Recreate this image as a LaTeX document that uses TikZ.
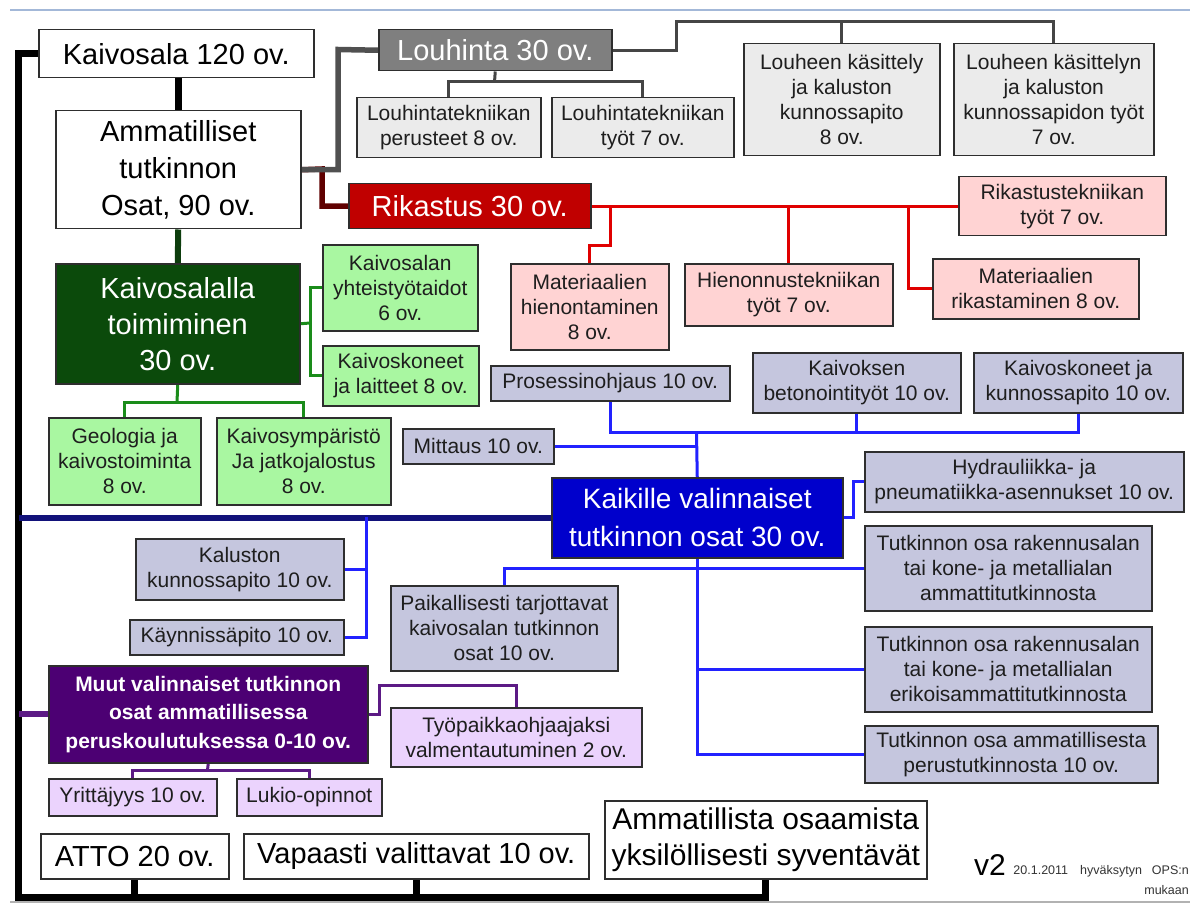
\documentclass[tikz,border=0pt]{standalone}
\usepackage{fontspec}
\setmainfont{Liberation Sans}
\usetikzlibrary{calc}
\pgfdeclarelayer{bg}
\pgfsetlayers{bg,main}
\definecolor{bordc}{HTML}{2E2E2E}
\definecolor{lgray}{HTML}{EBEBEB}
\definecolor{pinkb}{HTML}{FFD3D3}
\definecolor{lgreen}{HTML}{A9F7A1}
\definecolor{lavb}{HTML}{C5C6DE}
\definecolor{lpurp}{HTML}{EBD3FD}
\definecolor{louhc}{HTML}{7F7F7F}
\definecolor{rikc}{HTML}{C00000}
\definecolor{dgreen}{HTML}{0B4A0B}
\definecolor{kaic}{HTML}{0000CC}
\definecolor{muuc}{HTML}{4C0073}
\definecolor{gthickc}{HTML}{505050}
\definecolor{gthinc}{HTML}{454545}
\definecolor{dredc}{HTML}{600000}
\definecolor{redc}{HTML}{E00000}
\definecolor{dgrc}{HTML}{0D3D0D}
\definecolor{grnc}{HTML}{1A8C1A}
\definecolor{bluc}{HTML}{2222FF}
\definecolor{navyc}{HTML}{12127A}
\definecolor{purc}{HTML}{5C1A85}
\definecolor{topline}{HTML}{A3B8D8}
\definecolor{txtc}{HTML}{1E1E1E}
\tikzset{
  box/.style={draw=bordc, line width=1.5pt, anchor=north west, inner sep=0pt, align=center},
  small/.style={box, text=txtc, font=\fontsize{21}{25}\selectfont},
  big/.style={box, font=\fontsize{29}{37}\selectfont},
  blk/.style={line width=7pt, black},
  gthick/.style={line width=5.5pt, gthickc},
  gthin/.style={line width=3pt, gthinc},
  dred/.style={line width=5.5pt, dredc},
  rline/.style={line width=3pt, redc},
  dgr/.style={line width=6pt, dgrc},
  gline/.style={line width=3pt, grnc},
  bline/.style={line width=3pt, bluc},
  nline/.style={line width=6.5pt, navyc},
  pthick/.style={line width=6pt, purc},
  pline/.style={line width=3pt, purc},
}
\begin{document}
\begin{tikzpicture}[x=1pt,y=-1pt]
\useasboundingbox (0,0) rectangle (1202,904);

% main boxes
\node[big, fill=white, minimum width=275pt, minimum height=48pt] (kv) at (38,29) {Kaivosala 120 ov.};
\node[big, fill=white, minimum width=245pt, minimum height=118pt] (am) at (55,110) {Ammatilliset\\tutkinnon\\Osat, 90 ov.};
\node[big, fill=louhc, text=white, minimum width=233pt, minimum height=41pt] (lo) at (378,29) {Louhinta 30 ov.};
\node[small, fill=lgray, minimum width=184pt, minimum height=60pt] (lp) at (356,97) {Louhintatekniikan\\perusteet 8 ov.};
\node[small, fill=lgray, minimum width=182pt, minimum height=60pt] (lt) at (551,97) {Louhintatekniikan\\työt 7 ov.};
\node[small, fill=lgray, minimum width=196pt, minimum height=112pt] (lk1) at (743,43) {Louheen käsittely\\ja kaluston\\kunnossapito\\8 ov.};
\node[small, fill=lgray, minimum width=200pt, minimum height=112pt] (lk2) at (953,43) {Louheen käsittelyn\\ja kaluston\\kunnossapidon työt\\7 ov.};
\node[big, fill=rikc, text=white, minimum width=242pt, minimum height=45pt] (ri) at (348,183) {Rikastus 30 ov.};
\node[small, fill=pinkb, minimum width=207pt, minimum height=59pt] (rt) at (958,176) {Rikastustekniikan\\työt 7 ov.};
\node[small, fill=pinkb, minimum width=158pt, minimum height=86pt] (mh) at (510,263) {Materiaalien\\hienontaminen\\8 ov.};
\node[small, fill=pinkb, minimum width=208pt, minimum height=62pt] (ht) at (684,263) {Hienonnustekniikan\\työt 7 ov.};
\node[small, fill=pinkb, minimum width=206pt, minimum height=60pt] (mr) at (932,258) {Materiaalien\\rikastaminen 8 ov.};
\node[big, fill=dgreen, text=white, font=\fontsize{29}{36}\selectfont, minimum width=244pt, minimum height=120pt] (kt) at (55,263) {Kaivosalalla\\toimiminen\\30 ov.};
\node[small, fill=lgreen, minimum width=155pt, minimum height=86pt] (ky) at (322,244) {Kaivosalan\\yhteistyötaidot\\6 ov.};
\node[small, fill=lgreen, minimum width=156pt, minimum height=60pt] (kk) at (322,345) {Kaivoskoneet\\ja laitteet 8 ov.};
\node[small, fill=lgreen, minimum width=152pt, minimum height=87pt] (geo) at (48,417) {Geologia ja\\kaivostoiminta\\8 ov.};
\node[small, fill=lgreen, minimum width=174pt, minimum height=87pt] (ks) at (216,417) {Kaivosympäristö\\Ja jatkojalostus\\8 ov.};
\node[small, fill=lavb, minimum width=239pt, minimum height=35pt] (po) at (490,365) {Prosessinohjaus 10 ov.};
\node[small, fill=lavb, minimum width=208pt, minimum height=60pt] (kb) at (752,352) {Kaivoksen\\betonointityöt 10 ov.};
\node[small, fill=lavb, minimum width=209pt, minimum height=60pt] (kk2) at (973,352) {Kaivoskoneet ja\\kunnossapito 10 ov.};
\node[small, fill=lavb, minimum width=151pt, minimum height=35pt] (mi) at (402,428) {Mittaus 10 ov.};
\node[box, fill=kaic, text=white, font=\fontsize{28}{38}\selectfont, minimum width=291pt, minimum height=80pt] (kai) at (551,477) {Kaikille valinnaiset\\tutkinnon osat 30 ov.};
\node[small, fill=lavb, minimum width=319pt, minimum height=60pt] (hy) at (864,451) {Hydrauliikka- ja\\pneumatiikka-asennukset 10 ov.};
\node[small, fill=lavb, minimum width=287pt, minimum height=85pt] (tr1) at (864,525) {Tutkinnon osa rakennusalan\\tai kone- ja metallialan\\ammattitutkinnosta};
\node[small, fill=lavb, minimum width=287pt, minimum height=85pt] (tr2) at (864,626) {Tutkinnon osa rakennusalan\\tai kone- ja metallialan\\erikoisammattitutkinnosta};
\node[small, fill=lavb, minimum width=293pt, minimum height=57pt] (ta) at (864,725) {Tutkinnon osa ammatillisesta\\perustutkinnosta 10 ov.};
\node[small, fill=lavb, minimum width=208pt, minimum height=61pt] (kal) at (135,538) {Kaluston\\kunnossapito 10 ov.};
\node[small, fill=lavb, minimum width=214pt, minimum height=35pt] (kay) at (129,619) {Käynnissäpito 10 ov.};
\node[small, fill=lavb, minimum width=227pt, minimum height=85pt] (pk) at (390,585) {Paikallisesti tarjottavat\\kaivosalan tutkinnon\\osat 10 ov.};
\node[box, fill=muuc, text=white, font=\bfseries\fontsize{21}{28.5}\selectfont, minimum width=319pt, minimum height=97pt] (mu) at (48,665) {Muut valinnaiset tutkinnon\\osat ammatillisessa\\peruskoulutuksessa 0-10 ov.};
\node[small, fill=lpurp, minimum width=251pt, minimum height=59pt] (tp) at (390,707) {Työpaikkaohjaajaksi\\valmentautuminen 2 ov.};
\node[small, fill=lpurp, minimum width=168pt, minimum height=37pt] (yr) at (48,778) {Yrittäjyys 10 ov.};
\node[small, fill=lpurp, minimum width=145pt, minimum height=37pt] (lu) at (236,778) {Lukio-opinnot};
\node[big, fill=white, minimum width=188pt, minimum height=45pt] (atto) at (40,833) {ATTO 20 ov.};
\node[big, fill=white, minimum width=345pt, minimum height=45pt] (vap) at (243,833) {Vapaasti valittavat 10 ov.};
\node[big, fill=white, font=\fontsize{30}{36}\selectfont, minimum width=322pt, minimum height=78pt] (ao) at (604,800) {Ammatillista osaamista\\yksilöllisesti syventävät};

\node[anchor=base west, inner sep=0pt, font=\fontsize{30}{30}\selectfont] (v2) at (974,875) {v2};
\node[anchor=base east, inner sep=0pt, text=black!80, font=\fontsize{12.5}{12.5}\selectfont] (dt) at (1189,874) {20.1.2011\hspace{12pt}hyväksytyn\hspace{10pt}OPS:n};
\node[anchor=base east, inner sep=0pt, text=black!80, font=\fontsize{12.5}{12.5}\selectfont] (mk) at (1189,894) {mukaan};

\coordinate (BL) at (18.5,897.5);
\coordinate (g1) at (338,49.5);
\coordinate (d1) at (322,169);
\coordinate (lb) at (494.5,82);
\coordinate (lr) at (676,22);
\coordinate (r1) at (610,205.5);
\coordinate (r2) at (908,205.5);
\coordinate (gr) at (310,323);
\coordinate (gb) at (177,402);
\coordinate (bh) at (696.5,432);
\coordinate (bv) at (366,517);
\coordinate (pc) at (379,685);
\coordinate (pb) at (207.5,770);

\begin{pgfonlayer}{bg}
\fill[white] (0,0) rectangle (1202,904);
\draw[topline, line width=1.5pt] (10,10) -- (1190,10);
\draw[gray!60, line width=1.5pt] (10,902) -- (1190,902);
\draw[blk] (kv.west) -| (BL) -| (ao.south);
\draw[blk] (atto.south) -- (atto.south |- BL);
\draw[blk] (vap.south) -- (vap.south |- BL);
\draw[blk] (am.north |- kv.south) -- (am.north);
\draw[dgr] (am.south) -- (kt.north);
\draw[dred] (am.east) -- (d1) |- (ri.west);
\draw[gthick] (am.east) -| (g1) -- (lo.west);
\draw[gthin] (lo.south) -- (lb);
\draw[gthin] (lp.north) |- (lb) -| (lt.north);
\draw[gthin] (lo.east) -| (lr) -| (lk2.north);
\draw[gthin] (lk1.north) -- (lk1.north |- lr);
\draw[rline] (ri.east) -- (rt.west);
\draw[rline] (r1) -- ++(0,40) -| (mh.north);
\draw[rline] (ht.north) -- (ht.north |- ri.east);
\draw[rline] (mr.west) -| (r2);
\draw[gline] (kt.east) -- (gr);
\draw[gline] (ky.west) -| (gr) |- (kk.west);
\draw[gline] (kt.south) -- (gb);
\draw[gline] (geo.north) |- (gb) -| (ks.north);
\draw[bline] (po.south) |- (bh) -| (kk2.south);
\draw[bline] (kb.south) -- (kb.south |- bh);
\draw[bline] (bh) -- (kai.north);
\draw[bline] (mi.east) -- (mi.east -| bh);
\draw[bline] (kai.east) -- ++(10,0) |- (hy.west);
\draw[bline] (kai.south) |- (ta.west);
\draw[bline] (pk.north) |- (tr1.west);
\draw[bline] (tr2.west) -- (tr2.west -| kai.south);
\draw[nline] (kai.west) -- (kai.west -| BL);
\draw[bline] (bv) |- (kay.east);
\draw[bline] (kal.east) -- (kal.east -| bv);
\draw[pthick] (mu.west) -- (mu.west -| BL);
\draw[pline] (mu.east) -| (pc) -| (tp.north);
\draw[pline] (mu.south) -- (pb);
\draw[pline] (yr.north) |- (pb) -| (lu.north);
\end{pgfonlayer}
\end{tikzpicture}
\end{document}
